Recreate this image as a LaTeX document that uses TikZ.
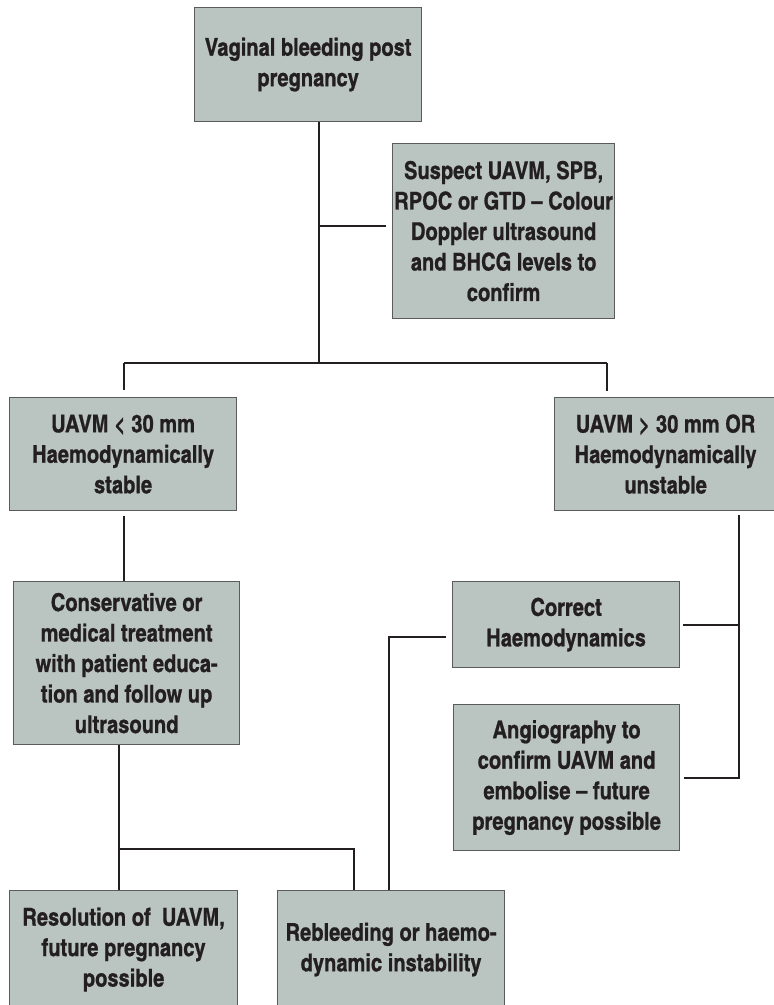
\documentclass[tikz,border=0pt]{standalone}
\usepackage{fontspec}
\setmainfont{texgyreheroscn-bold.otf}[RawFeature={embolden=0.8}]
\usepackage{tikz}
\usetikzlibrary{positioning,calc}
\definecolor{sage}{RGB}{186,196,192}
\definecolor{frame}{RGB}{90,92,92}
\definecolor{ink}{RGB}{35,31,32}
\tikzset{
  box/.style={draw=frame,fill=sage,line width=1.2pt,inner sep=0pt,align=center,
    anchor=north west,text=ink,font=\fontsize{24.5}{30.5}\selectfont},
  link/.style={draw=ink,line width=2pt},
}
\begin{document}
\begin{tikzpicture}[x=1pt,y=-1pt]
  \useasboundingbox (0,0) rectangle (774,1005);
  \clip (0,0) rectangle (774,1005);
  \node[box,minimum width=227pt,minimum height=114pt] (vag) at (194,7) {Vaginal bleeding post\\pregnancy};
  \node[box,minimum width=222pt,minimum height=175pt] (susp) at (392,143) {Suspect UAVM, SPB,\\RPOC or GTD -- Colour\\Doppler ultrasound\\and BHCG levels to\\confirm};
  \node[box,minimum width=227pt,minimum height=113pt] (small) at (9,397) {UAVM < 30 mm\\Haemodynamically\\stable};
  \node[box,minimum width=222pt,minimum height=113pt] (big) at (554,397) {UAVM > 30 mm OR\\Haemodynamically\\unstable};
  \node[box,minimum width=226pt,minimum height=163pt] (cons) at (13,581) {Conservative or\\medical treatment\\with patient educa-\\tion and follow up\\ultrasound};
  \node[box,minimum width=227pt,minimum height=86pt] (corr) at (452,581) {Correct\\Haemodynamics};
  \node[box,minimum width=226pt,minimum height=146pt] (angio) at (453,704) {Angiography to\\confirm UAVM and\\embolise -- future\\pregnancy possible};
  \node[box,minimum width=228pt,minimum height=118pt] (resol) at (9,890) {Resolution of~~UAVM,\\future pregnancy\\possible};
  \node[box,minimum width=227pt,minimum height=118pt] (rebl) at (277,890) {Rebleeding or haemo-\\dynamic instability};
  % junctions
  \coordinate (split) at (319,363);
  \coordinate (lft) at (124,363);
  \coordinate (rgt) at (607,363);
  \coordinate (rtop) at (739,515);
  \coordinate (back) at (389,637);
  \coordinate (fork) at (119,849);
  \coordinate (fork2) at (354,849);
  \draw[link] (vag.south -| split) -- (split);
  \draw[link] (split |- 0,226) -- ([xshift=-6pt]susp.west |- 0,226);
  \draw[link] (lft) -- (rgt);
  \draw[link] (lft) -- ([yshift=7pt]small.north -| lft);
  \draw[link] (rgt) -- ([yshift=6pt]big.north -| rgt);
  \draw[link] ([yshift=-5pt]small.south -| lft) -- (cons.north -| lft);
  \draw[link] (cons.south -| fork) -- (resol.north -| fork);
  \draw[link] (fork) -- (fork2) -- (rebl.north -| fork2);
  \draw[link] ([xshift=3pt]corr.east) -- (corr.east -| rtop);
  \draw[link] ([xshift=4pt]angio.east) -| (rtop);
  \draw[link] ([xshift=-6pt]corr.west |- back) -- (back) -- (rebl.north -| back);
\end{tikzpicture}
\end{document}
